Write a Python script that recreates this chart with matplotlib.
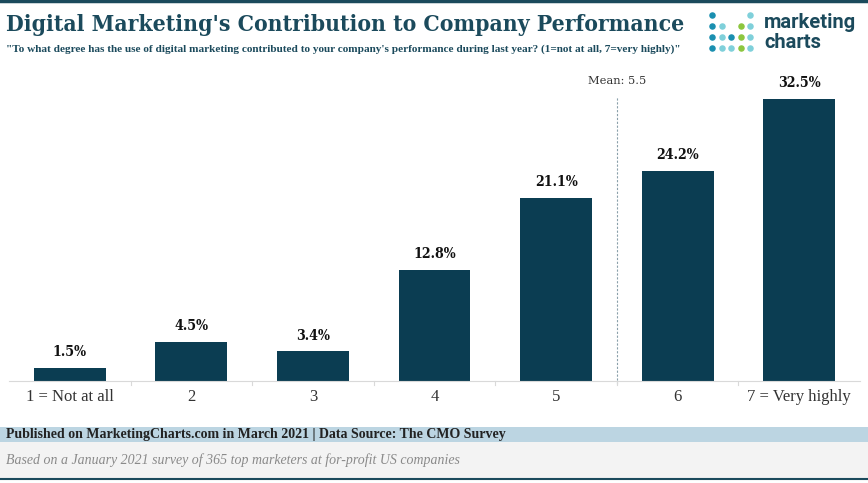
#!/usr/bin/env python3
"""Digital Marketing's contribution to company performance - bar chart recreation."""

import matplotlib.pyplot as plt
from matplotlib.patches import Rectangle

# data
categories = ["1 = Not at all", "2", "3", "4", "5", "6", "7 = Very highly"]
shares = [1.5, 4.5, 3.4, 12.8, 21.1, 24.2, 32.5]
mean_score = 5.5

title = "Digital Marketing's Contribution to Company Performance"
subtitle = ('"To what degree has the use of digital marketing contributed to your '
            'company\'s performance during last year? (1=not at all, 7=very highly)"')
source = "Published on MarketingCharts.com in March 2021 | Data Source: The CMO Survey"
note = "Based on a January 2021 survey of 365 top marketers at for-profit US companies"

BAR = "#0b3d52"
DARK = "#1b4a5c"
W, H = 868, 483

fig = plt.figure(figsize=(W / 100, H / 100), dpi=100)
fig.patch.set_facecolor("white")

# overlay in pixel coords for header / footer decoration
deco = fig.add_axes([0, 0, 1, 1], zorder=0)
deco.set_xlim(0, W)
deco.set_ylim(H, 0)
deco.axis("off")

# chart area: baseline at y=381, x from 9 to 860
ax = fig.add_axes([9 / W, 1 - 381 / H, (860 - 9) / W, (381 - 99) / H / 32.5 * 40], zorder=2)
ax.patch.set_alpha(0)
ax.set_xlim(-0.5, len(categories) - 0.5)
ax.set_ylim(0, 40)
x = list(range(len(categories)))
ax.bar(x, shares, width=0.59, color=BAR, zorder=2)
for xi, v in zip(x, shares):
    ax.text(xi, v + 1.0, f"{v}%", ha="center", va="bottom", fontsize=10.2,
            fontweight="bold", family="DejaVu Serif", fontstretch="condensed",
            color="#111111")

# mean line (score 5.5 -> index 4.5)
mx = mean_score - 1
ax.plot([mx, mx], [-0.4, 32.7], ls=(0, (2, 1.5)), lw=0.8, color="#8aa0aa",
        zorder=1, clip_on=False)
ax.text(mx, 34.0, f"Mean: {mean_score}", ha="center", va="bottom", fontsize=8.2,
        family="DejaVu Serif", color="#333333")

for s in ["top", "right", "left"]:
    ax.spines[s].set_visible(False)
ax.spines["bottom"].set_color("#d9d9d9")
ax.spines["bottom"].set_linewidth(0.8)
ax.set_yticks([])
ax.set_xticks(x)
ax.set_xticklabels(categories, family="Liberation Serif", fontsize=12, color="#333333")
ax.tick_params(axis="x", length=0, pad=6)
for b in [i + 0.5 for i in range(len(categories) - 1)]:
    ax.plot([b, b], [0, -0.5], color="#d9d9d9", lw=0.8, clip_on=False)

# header
deco.plot([0, W], [1, 1], color=DARK, lw=2.5)
deco.text(6, 25, title, fontsize=16.4, fontweight="bold", family="DejaVu Serif",
          fontstretch="condensed", color=DARK, va="center", ha="left")
deco.text(6, 49, subtitle, fontsize=8.1, family="Liberation Serif",
          fontweight="bold", color=DARK, va="center", ha="left")

# logo dots
c_dark, c_light, c_green = "#1a8fb0", "#7fd0da", "#8cc63f"
dot_rows = [
    [c_dark, None, None, None, c_light],
    [c_dark, c_light, None, c_green, c_light],
    [c_dark, c_light, c_dark, c_green, c_light],
    [c_dark, c_light, c_light, c_green, c_light],
]
for r, row in enumerate(dot_rows):
    for c, col in enumerate(row):
        if col:
            deco.scatter(712 + c * 9.5, 15 + r * 11, s=22, color=col, lw=0)
deco.text(764, 22, "marketing", fontsize=14.5, fontweight="bold", color=DARK,
          family="Roboto", va="center", ha="left")
deco.text(764, 42, "charts", fontsize=14.5, fontweight="bold", color=DARK,
          family="Roboto", va="center", ha="left")

# footer
deco.add_patch(Rectangle((0, 427), W, 15, color="#bcd5e2", lw=0))
deco.add_patch(Rectangle((0, 442), W, 36, color="#f3f3f3", lw=0))
deco.plot([0, W], [479, 479], color=DARK, lw=1.5)
deco.text(6, 434.5, source, fontsize=10, fontweight="bold",
          family="Liberation Serif", color="#222222", va="center", ha="left")
deco.text(6, 460, note, fontsize=10, style="italic", family="Liberation Serif",
          color="#8a8a8a", va="center", ha="left")

plt.savefig("out.png", dpi=100)
